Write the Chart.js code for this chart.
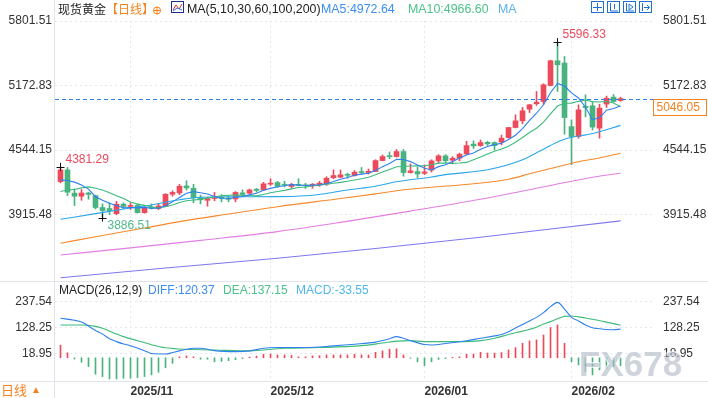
<!DOCTYPE html>
<html>
<head>
<meta charset="utf-8">
<script src="https://cdn.jsdelivr.net/npm/chart.js@4.4.1/dist/chart.umd.min.js"></script>
<style>
  html, body { margin: 0; padding: 0; background: #fff; }
  #wrap { position: relative; width: 708px; height: 398px; }
</style>
</head>
<body>
<div id="wrap"><canvas id="chart" width="708" height="398"></canvas></div>
<script>
// ---- 现货黄金 日线 : bougies (index 0 = 2025/10/20) ----
const opens = [4237, 4351, 4125, 4095, 4126, 4100, 3985, 3975, 3925, 4017,
  3995, 4005, 3935, 3985, 3975, 3998, 4114, 4127, 4195, 4172,
  4082, 4055, 4072, 4080, 4078, 4068, 4128, 4124, 4163, 4156,
  4212, 4228, 4210, 4190, 4210, 4205, 4202, 4205, 4212, 4276,
  4280, 4305, 4296, 4335, 4325, 4335, 4442, 4488, 4481, 4530,
  4325, 4335, 4318, 4350, 4439, 4488, 4446, 4465, 4507, 4602,
  4588, 4620, 4617, 4622, 4666, 4764, 4829, 4943, 4995, 5017,
  5173, 5414, 5392, 4773, 4676, 4970, 4975, 4758, 4992, 5060, 5027];
const highs = [4381.29, 4375, 4165, 4160, 4135, 4105, 4020, 4030, 4045, 4030,
  4030, 4020, 3995, 4020, 4025, 4120, 4148, 4210, 4245, 4211,
  4106, 4085, 4132, 4110, 4100, 4140, 4156, 4165, 4170, 4230,
  4265, 4240, 4240, 4220, 4265, 4220, 4218, 4240, 4285, 4352,
  4350, 4320, 4345, 4375, 4360, 4450, 4497, 4526, 4550, 4550,
  4410, 4380, 4400, 4450, 4500, 4500, 4480, 4515, 4630, 4634,
  4643, 4630, 4625, 4690, 4765, 4888, 4960, 4990, 5115, 5190,
  5420, 5596.33, 5456, 4839, 4985, 5082, 5010, 4990, 5070, 5085, 5060];
const lows = [4225, 4100, 4004, 4055, 4065, 3970, 3886.51, 3916, 3915, 3975,
  3965, 3930, 3929, 3970, 3965, 3995, 4095, 4110, 4155, 4032,
  4020, 3997, 4050, 4040, 4040, 4040, 4100, 4115, 4135, 4150,
  4200, 4180, 4185, 4175, 4195, 4170, 4172, 4190, 4200, 4265,
  4275, 4270, 4290, 4310, 4310, 4335, 4440, 4460, 4475, 4290,
  4320, 4275, 4305, 4330, 4420, 4420, 4410, 4440, 4500, 4560,
  4580, 4590, 4546, 4595, 4660, 4760, 4800, 4910, 4980, 4990,
  5170, 5115, 4699, 4402, 4660, 4868, 4740, 4660, 4960, 5010, 5020];
const closes = [4351, 4134, 4095, 4126, 4112, 3985, 3955, 3955, 4017, 3995,
  4002, 3935, 3980, 3975, 4000, 4114, 4132, 4192, 4175, 4080,
  4060, 4072, 4078, 4074, 4065, 4132, 4112, 4156, 4151, 4215,
  4222, 4190, 4202, 4210, 4198, 4196, 4208, 4222, 4270, 4296,
  4303, 4298, 4329, 4325, 4338, 4442, 4481, 4480, 4530, 4325,
  4342, 4312, 4332, 4439, 4488, 4440, 4465, 4504, 4588, 4585,
  4617, 4605, 4588, 4660, 4764, 4829, 4927, 4985, 5011, 5180,
  5414, 5375, 4861, 4676, 4936, 4958, 4768, 4953, 5050, 5017, 5046.05];

// ---- moyennes mobiles ----
const ma5 = [4254, 4248, 4232, 4205, 4164, 4090, 4055, 4027, 4005, 3981,
  3985, 3981, 3986, 3977, 3978, 4001, 4040, 4083, 4123, 4139,
  4128, 4116, 4093, 4073, 4070, 4084, 4092, 4108, 4123, 4153,
  4171, 4187, 4196, 4208, 4204, 4199, 4203, 4207, 4219, 4238,
  4260, 4278, 4299, 4310, 4319, 4346, 4383, 4413, 4454, 4452,
  4432, 4398, 4368, 4350, 4383, 4402, 4433, 4467, 4497, 4516,
  4552, 4580, 4597, 4611, 4647, 4689, 4754, 4833, 4903, 4986,
  5103, 5193, 5168, 5101, 5052, 4961, 4840, 4858, 4933, 4949, 4972.64];
const ma10 = [4141, 4156, 4161, 4176, 4186, 4173, 4155, 4129, 4099, 4073,
  4038, 4018, 4006, 3991, 3980, 3993, 4010, 4034, 4050, 4058,
  4064, 4078, 4088, 4098, 4104, 4106, 4104, 4100, 4098, 4111,
  4128, 4140, 4152, 4166, 4179, 4185, 4195, 4201, 4213, 4221,
  4230, 4240, 4253, 4265, 4279, 4303, 4330, 4356, 4382, 4385,
  4389, 4390, 4391, 4402, 4417, 4417, 4415, 4418, 4424, 4450,
  4477, 4506, 4532, 4554, 4582, 4621, 4667, 4715, 4757, 4817,
  4896, 4973, 5001, 5002, 5019, 5032, 5016, 5013, 5017, 5002, 4966.60];
// [index, valeur]
const ma30 = [[0, 3870], [5, 3925], [9, 3970], [13, 4010], [17, 4060], [20, 4085],
  [25, 4090], [31, 4091], [35, 4100], [38, 4122], [41, 4155], [45, 4192], [48, 4235],
  [53, 4282], [55, 4305], [61, 4352], [66, 4450], [70, 4590], [72, 4650], [76, 4705], [80, 4785]];
const ma60 = [[0, 3637], [6, 3712], [12, 3785], [17, 3847], [23, 3912], [31, 3993],
  [40, 4072], [45, 4118], [49, 4158], [53, 4182], [59, 4216], [64, 4260], [67, 4313],
  [70, 4364], [74, 4430], [77, 4467], [80, 4514]];
const ma100 = [[0, 3522], [10, 3592], [20, 3665], [31, 3750], [40, 3840], [50, 3950],
  [60, 4065], [70, 4200], [76, 4280], [80, 4319]];
const ma200 = [[0, 3300], [15, 3395], [31, 3490], [45, 3585], [60, 3695], [70, 3775], [80, 3855]];

// ---- MACD(26,12,9) ----
const macdHist = [53, 21, -5, -19, -37, -69, -79, -89, -89, -86,
  -86, -83, -79, -72, -61, -42, -23, 4, 8, 4,
  -6, -6, -17, -15, -12, -8, -3, 3, 7, 15,
  16, 12, 12, 10, 4, 4, 8, 9, 12, 12,
  12, 12, 15, 12, 12, 23, 29, 36, 38, 12,
  -2, -17, -33, -17, -7, -3, 2, 4, 15, 16,
  23, 20, 20, 22, 33, 43, 61, 71, 75, 96,
  127, 138, 61, -17, -30, -58, -72, -51, -44, -37, -33.55];
const diff = [[0, 166], [2, 158], [3, 150], [5, 115], [6, 100], [7, 80], [8, 68], [9, 58],
  [10, 51], [12, 30], [13, 18], [15, 16], [16, 22], [17, 29], [19, 40], [20, 40], [22, 30],
  [25, 26], [27, 29], [29, 40], [31, 43], [35, 43], [39, 50], [42, 57], [45, 66], [47, 80],
  [48, 89], [49, 82], [50, 72], [52, 56], [53, 54], [55, 60], [58, 72], [60, 82], [62, 92],
  [63, 98], [64, 110], [65, 125], [66, 140], [67, 155], [68, 170], [69, 190], [70, 215],
  [71, 233], [72, 205], [73, 170], [74, 155], [75, 138], [76, 126], [77, 122], [78, 119],
  [79, 118], [80, 120.37]];
const dea = [[0, 138], [3, 138], [5, 132], [6, 124], [8, 100], [9, 89], [11, 72], [13, 55],
  [15, 42], [17, 37], [22, 33], [27, 29], [32, 40], [37, 43], [43, 51], [46, 62], [48, 70],
  [50, 72], [52, 68], [57, 68], [60, 72], [62, 82], [64, 98], [66, 112], [68, 128], [69, 142],
  [70, 152], [71, 164], [72, 174], [73, 176], [74, 172], [75, 167], [76, 162], [78, 150], [80, 137.15]];

// ---- axes ----
const monthLabels = ["2025/11", "2025/12", "2026/01", "2026/02"];
const monthTickIdx = [10, 30, 52, 73];
const priceTicks = [3915.48, 4544.15, 5172.83, 5801.51];
const macdTicks = [18.95, 128.25, 237.54];
// repères haut / bas annotés
const marks = [{ i: 0, kind: "high" }, { i: 6, kind: "low" }, { i: 71, kind: "high" }];

const UP = "#ec4a5b", DOWN = "#49b37f";
const C_MA5 = "#2f80ed", C_MA10 = "#3dbb7c", C_MA30 = "#2aa6ea",
      C_MA60 = "#f7892b", C_MA100 = "#e27ee2", C_MA200 = "#7d78f0";
const LATIN = '"Liberation Sans", Arial, sans-serif';
const CJK = '"Noto Sans CJK SC", sans-serif';

const toXY = arr => arr.map((v, i) => ({ x: i, y: v }));
const toPts = arr => arr.map(([x, y]) => ({ x, y }));
const candleColor = ctx => closes[ctx.dataIndex] >= opens[ctx.dataIndex] ? UP : DOWN;

function line(label, data, color, axis, smooth) {
  return {
    type: "line", label, data, yAxisID: axis, borderColor: color, borderWidth: 1.1,
    pointRadius: 0, fill: false, order: 0,
    cubicInterpolationMode: smooth ? "monotone" : "default", tension: 0
  };
}

function fixedTicks(list) {
  return s => { s.ticks = list.map(v => ({ value: v })); };
}

// Tout ce qui n'est pas une série : légendes, repères, étiquette de prix…
const overlay = {
  id: "overlay",
  afterDatasetsDraw(chart) {
    const { ctx, chartArea: a, scales } = chart;
    const xs = scales.x, ys = scales.y, ms = scales.m;
    ctx.save();

    // cadres
    ctx.strokeStyle = "#e1e5ea";
    ctx.lineWidth = 1;
    ctx.beginPath();
    ctx.moveTo(a.left - 0.5, 0); ctx.lineTo(a.left - 0.5, 398);
    const sep = Math.round(ms.top) + 0.5;
    ctx.moveTo(0, sep); ctx.lineTo(708, sep);
    const bot = Math.round(a.bottom) + 0.5;
    ctx.moveTo(0, bot); ctx.lineTo(708, bot);
    ctx.stroke();

    // ligne du dernier prix
    const last = closes[closes.length - 1];
    const py = Math.round(ys.getPixelForValue(last)) + 0.5;
    ctx.strokeStyle = "#2a7fe8";
    ctx.setLineDash([4, 3]);
    ctx.beginPath(); ctx.moveTo(a.left, py); ctx.lineTo(a.right, py); ctx.stroke();
    ctx.setLineDash([]);
    ctx.fillStyle = "#fff";
    ctx.fillRect(a.right + 0.5, py, 53, 16);
    ctx.strokeStyle = "#f5821f";
    ctx.strokeRect(a.right + 0.5, py, 53, 16);
    ctx.font = "12px " + LATIN;
    ctx.fillStyle = "#f5821f";
    ctx.textBaseline = "middle";
    ctx.fillText(last.toFixed(2), a.right + 3.5, py + 8.5);

    // repères haut / bas
    marks.forEach(mk => {
      const px = xs.getPixelForValue(mk.i);
      const v = mk.kind === "high" ? highs[mk.i] : lows[mk.i];
      const vy = ys.getPixelForValue(v);
      ctx.strokeStyle = "#111";
      ctx.beginPath();
      ctx.moveTo(px - 4, Math.round(vy) + 0.5); ctx.lineTo(px + 4, Math.round(vy) + 0.5);
      ctx.moveTo(px, vy - 4); ctx.lineTo(px, vy + 4);
      ctx.stroke();
      ctx.font = "12px " + LATIN;
      ctx.fillStyle = mk.kind === "high" ? "#ea4a5d" : "#52b889";
      ctx.fillText(v.toFixed(2), px + 5, mk.kind === "high" ? vy - 7.5 : vy + 8);
    });

    // légende principale
    const ty = 9.5;
    ctx.font = "12px " + CJK;
    ctx.fillStyle = "#222";
    ctx.fillText("现货黄金", 58, ty);
    ctx.fillStyle = "#f5821f";
    ctx.fillText("【日线】", 106, ty);
    ctx.strokeStyle = "#f5821f";
    ctx.beginPath(); ctx.arc(157, 10.5, 3.5, 0, Math.PI * 2);
    ctx.moveTo(153, 10.5); ctx.lineTo(161, 10.5); ctx.moveTo(157, 6.5); ctx.lineTo(157, 14.5);
    ctx.stroke();
    ctx.strokeStyle = "#1c2f8f";
    ctx.strokeRect(171.5, 1.5, 12, 11);
    ctx.strokeStyle = "#d33";
    ctx.beginPath(); ctx.moveTo(173, 10); ctx.lineTo(176, 5); ctx.lineTo(179, 9); ctx.lineTo(182, 4); ctx.stroke();
    ctx.strokeStyle = "#2f6fe0";
    ctx.beginPath(); ctx.moveTo(173, 11); ctx.lineTo(177, 8); ctx.lineTo(182, 10); ctx.stroke();
    ctx.font = "12.4px " + LATIN;
    ctx.fillStyle = "#222";
    ctx.fillText("MA(5,10,30,60,100,200)", 187, ty);
    ctx.fillStyle = "#3d8ef0";
    ctx.fillText("MA5:" + ma5[ma5.length - 1].toFixed(2), 321, ty);
    ctx.fillStyle = "#4cc38a";
    ctx.fillText("MA10:" + ma10[ma10.length - 1].toFixed(2), 408, ty);
    ctx.fillStyle = "#5ab4ea";
    ctx.fillText("MA", 498, ty);

    // petits boutons en haut à droite
    ctx.strokeStyle = "#1f6fd1";
    ctx.fillStyle = "#1f6fd1";
    [591, 607, 623, 639].forEach((bx, k) => {
      ctx.strokeRect(bx + 0.5, 1.5, 12, 11);
      ctx.beginPath();
      if (k === 0) {
        ctx.moveTo(bx + 6.5, 3); ctx.lineTo(bx + 6.5, 11); ctx.moveTo(bx + 2, 7.5); ctx.lineTo(bx + 11, 7.5);
      } else if (k === 1) {
        ctx.moveTo(bx + 3.5, 3); ctx.lineTo(bx + 3.5, 11); ctx.lineTo(bx + 11, 11);
        ctx.moveTo(bx + 7.5, 4); ctx.lineTo(bx + 7.5, 9);
      } else if (k === 2) {
        ctx.moveTo(bx + 3.5, 3); ctx.lineTo(bx + 3.5, 11); ctx.lineTo(bx + 11, 11);
        ctx.moveTo(bx + 6, 4); ctx.lineTo(bx + 10, 7); ctx.lineTo(bx + 6, 10); ctx.closePath();
      } else {
        ctx.moveTo(bx + 3.5, 3); ctx.lineTo(bx + 3.5, 11);
        ctx.moveTo(bx + 5, 7.5); ctx.lineTo(bx + 10, 7.5); ctx.moveTo(bx + 8, 5); ctx.lineTo(bx + 10.5, 7.5); ctx.lineTo(bx + 8, 10);
      }
      ctx.stroke();
    });

    // légende MACD
    const my = Math.round(ms.top) + 9.5;
    ctx.font = "12px " + LATIN;
    ctx.fillStyle = "#222";
    ctx.fillText("MACD(26,12,9)", 59, my);
    ctx.fillStyle = "#3d8ef0";
    ctx.fillText("DIFF:" + diff[diff.length - 1][1].toFixed(2), 148, my);
    ctx.fillStyle = "#4cc38a";
    ctx.fillText("DEA:" + dea[dea.length - 1][1].toFixed(2), 223, my);
    ctx.fillStyle = "#4fb8e8";
    ctx.fillText("MACD:" + macdHist[macdHist.length - 1].toFixed(2), 296, my);

    // période en bas à gauche
    ctx.font = "13px " + CJK;
    ctx.fillStyle = "#f5821f";
    ctx.fillText("日线", 1, 390);
    ctx.font = "10px " + LATIN;
    ctx.fillText("▲", 31, 390);

    // filigrane
    ctx.font = "bold 35px " + LATIN;
    ctx.textBaseline = "alphabetic";
    ctx.lineWidth = 2;
    ctx.strokeStyle = "rgba(255,255,255,0.7)";
    ctx.strokeText("FX678", 579, 376);
    ctx.fillStyle = "rgba(165,176,192,0.55)";
    ctx.fillText("FX678", 579, 376);
    ctx.restore();
  }
};

const gridStyle = { color: "#e4e7eb", drawTicks: false };
const tickFont = { family: LATIN, size: 12 };

new Chart(document.getElementById("chart"), {
  data: {
    datasets: [
      line("MA5", toXY(ma5), C_MA5, "y", false),
      line("MA10", toXY(ma10), C_MA10, "y", false),
      line("MA30", toPts(ma30), C_MA30, "y", true),
      line("MA60", toPts(ma60), C_MA60, "y", true),
      line("MA100", toPts(ma100), C_MA100, "y", true),
      line("MA200", toPts(ma200), C_MA200, "y", true),
      {
        type: "bar", label: "corps", yAxisID: "y", order: 2, grouped: false,
        data: opens.map((o, i) => ({ x: i, y: [o, closes[i]] })),
        backgroundColor: candleColor, barThickness: 5, minBarLength: 1, borderWidth: 0
      },
      {
        type: "bar", label: "mèche", yAxisID: "y", order: 3, grouped: false,
        data: lows.map((l, i) => ({ x: i, y: [l, highs[i]] })),
        backgroundColor: candleColor, barThickness: 1, borderWidth: 0
      },
      {
        type: "bar", label: "MACD", yAxisID: "m", order: 2, grouped: false,
        data: toXY(macdHist),
        backgroundColor: ctx => macdHist[ctx.dataIndex] >= 0 ? UP : DOWN,
        barThickness: 1, borderWidth: 0
      },
      line("DIFF", toPts(diff), C_MA5, "m", true),
      line("DEA", toPts(dea), C_MA10, "m", true)
    ]
  },
  options: {
    responsive: false,
    animation: false,
    devicePixelRatio: 1,
    layout: { padding: { top: 21, left: 0, right: 0, bottom: 0 } },
    plugins: { legend: { display: false }, tooltip: { enabled: false } },
    events: [],
    scales: {
      x: {
        type: "linear", position: "bottom", min: -0.786, max: 84.64, offset: false,
        afterBuildTicks: fixedTicks(monthTickIdx),
        afterFit: s => { s.height = 17; },
        ticks: {
          callback: v => monthLabels[monthTickIdx.indexOf(v)],
          align: "start", autoSkip: false, maxRotation: 0, padding: 3,
          color: "#333", font: { family: LATIN, size: 12, weight: "bold" }
        },
        grid: Object.assign({ offset: false }, gridStyle),
        border: { display: false, dash: [2, 3] }
      },
      m: {
        type: "linear", position: "left", stack: "L", stackWeight: 1,
        min: -97.5, max: 322.8,
        afterBuildTicks: fixedTicks(macdTicks),
        afterFit: s => { s.width = 55; },
        ticks: { callback: v => v.toFixed(2), padding: 3, color: "#333", font: tickFont },
        grid: gridStyle,
        border: { display: false, dash: [2, 3] }
      },
      y: {
        type: "linear", position: "left", stack: "L", stackWeight: 2.6,
        min: 3269, max: 5801.51,
        afterBuildTicks: fixedTicks(priceTicks),
        afterFit: s => { s.width = 55; },
        ticks: { callback: v => v.toFixed(2), padding: 3, color: "#333", font: tickFont },
        grid: gridStyle,
        border: { display: false, dash: [2, 3] }
      },
      yR: {
        type: "linear", position: "right", stack: "R", stackWeight: 2.6,
        min: 3269, max: 5801.51,
        afterBuildTicks: fixedTicks(priceTicks),
        afterFit: s => { s.width = 55; },
        ticks: { callback: v => v.toFixed(2), padding: 2, color: "#333", font: tickFont },
        grid: { display: false },
        border: { display: false }
      },
      mR: {
        type: "linear", position: "right", stack: "R", stackWeight: 1,
        min: -97.5, max: 322.8,
        afterBuildTicks: fixedTicks(macdTicks),
        afterFit: s => { s.width = 55; },
        ticks: { callback: v => v.toFixed(2), padding: 2, color: "#333", font: tickFont },
        grid: { display: false },
        border: { display: false }
      }
    }
  },
  plugins: [overlay]
});
</script>
</body>
</html>
